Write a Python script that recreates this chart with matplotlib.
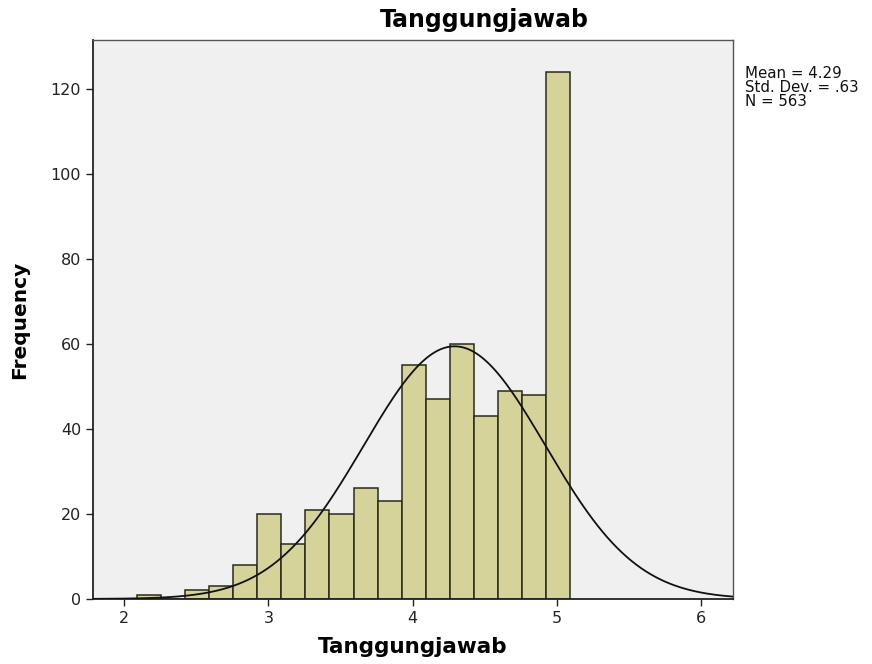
import numpy as np
import matplotlib.pyplot as plt

# Histogram of Tanggungjawab scores (18 bins of width 1/6)
bin_start = 2.09
bin_width = 1 / 6
counts = [1, 0, 2, 3, 8, 20, 13, 21, 20, 26, 23, 55, 47, 60, 43, 49, 48, 124]
mean, sd, n = 4.29, 0.63, 563

x_ticks = [2, 3, 4, 5, 6]
y_ticks = [0, 20, 40, 60, 80, 100, 120]

fig = plt.figure(figsize=(8.72, 6.64), dpi=100)
ax = fig.add_axes([0.1067, 0.098, 0.734, 0.842])
ax.set_facecolor("#F0F0F0")

lefts = bin_start + bin_width * np.arange(len(counts))
ax.bar(lefts, counts, width=bin_width, align="edge",
       color="#D5D29A", edgecolor="#2a2a1a", linewidth=1.1, zorder=2)

# normal curve scaled to counts
xs = np.linspace(1.78, 6.23, 400)
ys = n * bin_width * np.exp(-0.5 * ((xs - mean) / sd) ** 2) / (sd * np.sqrt(2 * np.pi))
ax.plot(xs, ys, color="#111111", linewidth=1.3, zorder=3)

ax.set_xlim(1.785, 6.22)
ax.set_ylim(0, 131.5)
ax.set_xticks(x_ticks)
ax.set_yticks(y_ticks)
ax.tick_params(direction="out", length=5, width=1, labelsize=11.5, colors="#222222")
for side in ["left", "bottom"]:
    ax.spines[side].set_color("#222222")
    ax.spines[side].set_linewidth(1.3)
for side in ["top", "right"]:
    ax.spines[side].set_color("#555555")
    ax.spines[side].set_linewidth(1.0)

fig.text(0.555, 0.97, "Tanggungjawab", fontsize=17, fontweight="bold",
         ha="center", va="center")
ax.set_xlabel("Tanggungjawab", fontsize=15.5, fontweight="bold", labelpad=8)
ax.set_ylabel("Frequency", fontsize=14.5, fontweight="bold")
ax.yaxis.set_label_coords(-0.1, 0.5)

fig.text(0.854, 0.9, "Mean = 4.29\nStd. Dev. = .63\nN = 563",
         fontsize=10.8, va="top", ha="left", linespacing=0.9, color="#111111")

fig.savefig("out.png", dpi=100)
